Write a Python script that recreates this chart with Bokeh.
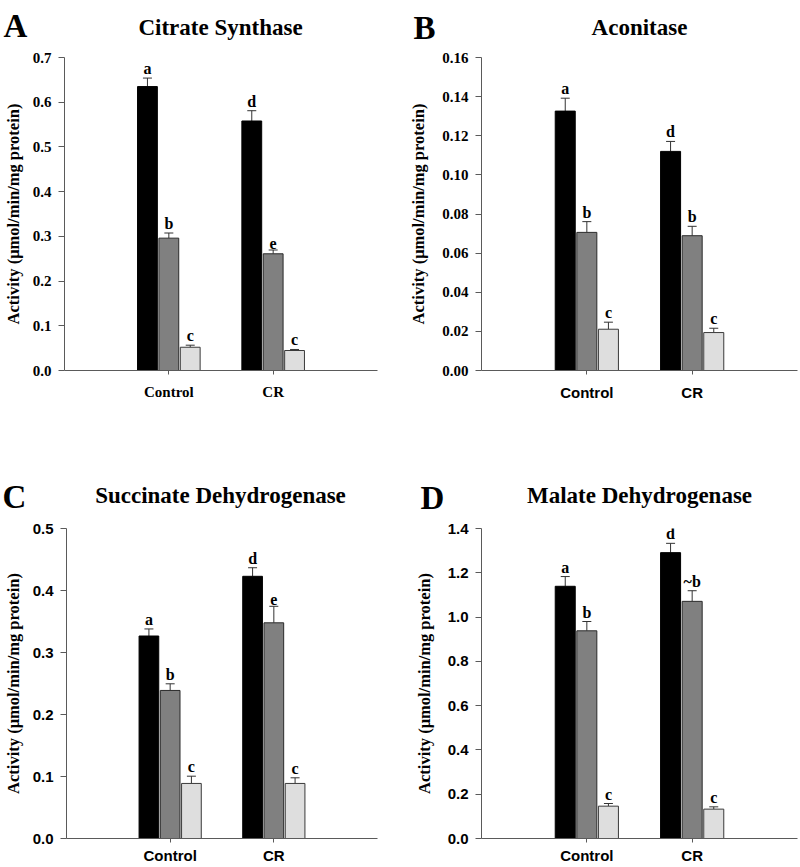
from bokeh.plotting import figure
from bokeh.models import (ColumnDataSource, FactorRange, Range1d, Whisker, TeeHead,
                          Label, FixedTicker, NumeralTickFormatter)
from bokeh.transform import dodge
from bokeh.core.properties import value
from bokeh.layouts import column, row
from bokeh.embed import file_html
from bokeh.resources import INLINE

categories = ["Control", "CR"]

# Panel A: Citrate Synthase
cs_black = [0.635, 0.558]
cs_black_err = [0.019, 0.023]
cs_grey = [0.296, 0.261]
cs_grey_err = [0.0115, 0.0085]
cs_light = [0.052, 0.0447]
cs_light_err = [0.0046, 0.0023]
cs_letters = [["a", "d"], ["b", "e"], ["c", "c"]]
cs_ticks = [0.0, 0.1, 0.2, 0.3, 0.4, 0.5, 0.6, 0.7]

# Panel B: Aconitase
ac_black = [0.1326, 0.112]
ac_black_err = [0.0066, 0.0051]
ac_grey = [0.0706, 0.0689]
ac_grey_err = [0.0055, 0.0048]
ac_light = [0.0211, 0.0194]
ac_light_err = [0.0036, 0.0022]
ac_letters = [["a", "d"], ["b", "b"], ["c", "c"]]
ac_ticks = [0.0, 0.02, 0.04, 0.06, 0.08, 0.10, 0.12, 0.14, 0.16]

# Panel C: Succinate Dehydrogenase
sd_black = [0.3266, 0.4229]
sd_black_err = [0.0114, 0.0138]
sd_grey = [0.2388, 0.3479]
sd_grey_err = [0.0107, 0.0266]
sd_light = [0.0888, 0.0888]
sd_light_err = [0.0117, 0.0091]
sd_letters = [["a", "d"], ["b", "e"], ["c", "c"]]
sd_ticks = [0.0, 0.1, 0.2, 0.3, 0.4, 0.5]

# Panel D: Malate Dehydrogenase
md_black = [1.139, 1.291]
md_black_err = [0.044, 0.042]
md_grey = [0.938, 1.071]
md_grey_err = [0.042, 0.048]
md_light = [0.146, 0.1326]
md_light_err = [0.012, 0.0104]
md_letters = [["a", "d"], ["b", "~b"], ["c", "c"]]
md_ticks = [0.0, 0.2, 0.4, 0.6, 0.8, 1.0, 1.2, 1.4]

SERIF = "Liberation Serif"
SANS = "Liberation Sans"
AXIS_COLOR = "#5a5a5a"
FILLS = ["#000000", "#808080", "#dedede"]
OUTLINES = ["#000000", "#2a2a2a", "#3a3a3a"]
OFFSETS = [-0.205, 0.0, 0.205]


def make_header(items, width, height):
    """items: (text, x, baseline_from_top, font_size, align)"""
    h = figure(width=width, height=height, output_backend="svg", toolbar_location=None,
               x_axis_location=None, y_axis_location=None,
               x_range=Range1d(0, 1), y_range=Range1d(0, 1),
               min_border_left=0, min_border_right=0, min_border_top=0, min_border_bottom=0)
    h.outline_line_color = None
    h.grid.visible = False
    for text, x, base, size, align in items:
        h.add_layout(Label(x=x, y=height - base, x_units="screen", y_units="screen",
                           text=text, text_font=SERIF, text_font_style="bold",
                           text_font_size=size, text_color="black",
                           text_baseline="alphabetic", text_align=align))
    return h


def make_panel(series, letters, ticks, fmt, yfont, xfont,
               width, height, bl, br, bt, bb, xlabel_standoff, ylabel_standoff):
    p = figure(width=width, height=height, output_backend="svg", toolbar_location=None,
               x_range=FactorRange(factors=categories, range_padding=0.5,
                                   range_padding_units="absolute"),
               y_range=Range1d(ticks[0], ticks[-1]),
               min_border_left=bl, min_border_right=br,
               min_border_top=bt, min_border_bottom=bb)
    p.outline_line_color = None
    p.grid.visible = False
    p.background_fill_color = "white"

    for i, (mean, err) in enumerate(series):
        hi = [m + e for m, e in zip(mean, err)]
        src = ColumnDataSource(dict(cat=categories, top=mean, hi=hi, lab=letters[i]))
        xs = dodge("cat", OFFSETS[i], range=p.x_range)
        p.vbar(x=xs, top="top", bottom=0, width=0.19, source=src,
               fill_color=FILLS[i], line_color=OUTLINES[i], line_width=1)
        w = Whisker(source=src, base=xs, upper="hi", lower="top",
                    line_color="#333333", line_width=1,
                    upper_head=TeeHead(size=9, line_color="#333333", line_width=1),
                    lower_head=None)
        p.add_layout(w)
        p.text(x=xs, y="hi", text="lab", source=src, text_align="center",
               text_baseline="bottom", y_offset=-1,
               text_font=value(SERIF), text_font_style="bold",
               text_font_size="16px", text_color="black")

    ya = p.yaxis[0]
    ya.ticker = FixedTicker(ticks=ticks)
    ya.formatter = NumeralTickFormatter(format=fmt)
    ya.major_tick_in = 0
    ya.major_tick_out = 6
    ya.minor_tick_line_color = None
    ya.axis_line_color = AXIS_COLOR
    ya.major_tick_line_color = AXIS_COLOR
    ya.major_label_text_font = yfont
    ya.major_label_text_font_style = "bold"
    ya.major_label_text_font_size = "15px"
    ya.major_label_text_color = "black"
    ya.major_label_standoff = 7
    ya.axis_label = "Activity (\u03bcmol/min/mg protein)"
    ya.axis_label_text_font = SERIF
    ya.axis_label_text_font_style = "bold"
    ya.axis_label_text_font_size = "16.5px"
    ya.axis_label_text_color = "black"
    ya.axis_label_standoff = ylabel_standoff

    xa = p.xaxis[0]
    xa.major_tick_in = 0
    xa.major_tick_out = 4
    xa.axis_line_color = AXIS_COLOR
    xa.major_tick_line_color = AXIS_COLOR
    xa.major_label_text_font = xfont
    xa.major_label_text_font_style = "bold"
    xa.major_label_text_font_size = "15px"
    xa.major_label_text_color = "black"
    xa.major_label_standoff = xlabel_standoff
    return p


h_top = make_header([("A", 3, 25, "33px", "left"),
                     ("Citrate Synthase", 220, 27, "23px", "center"),
                     ("B", 413, 27, "33px", "left"),
                     ("Aconitase", 639, 27, "23px", "center")], 800, 47)
pA = make_panel([(cs_black, cs_black_err), (cs_grey, cs_grey_err), (cs_light, cs_light_err)],
                cs_letters, cs_ticks, "0.0", SERIF, SERIF,
                400, 381, 63, 23, 10, 58, 9, 7)
pB = make_panel([(ac_black, ac_black_err), (ac_grey, ac_grey_err), (ac_light, ac_light_err)],
                ac_letters, ac_ticks, "0.00", SERIF, SANS,
                400, 381, 81, 3, 10, 58, 9, 11)
h_bot = make_header([("C", 2, 68, "33px", "left"),
                     ("Succinate Dehydrogenase", 220, 67, "23px", "center"),
                     ("D", 420, 69, "33px", "left"),
                     ("Malate Dehydrogenase", 639, 67, "23px", "center")], 800, 90)
pC = make_panel([(sd_black, sd_black_err), (sd_grey, sd_grey_err), (sd_light, sd_light_err)],
                sd_letters, sd_ticks, "0.0", SANS, SANS,
                400, 348, 63, 23, 10, 25, 4, 7)
pD = make_panel([(md_black, md_black_err), (md_grey, md_grey_err), (md_light, md_light_err)],
                md_letters, md_ticks, "0.0", SANS, SANS,
                400, 348, 81, 3, 10, 25, 4, 11)

layout = column(h_top, row(pA, pB), h_bot, row(pC, pD))
open("out.html", "w").write(file_html(layout, INLINE))
